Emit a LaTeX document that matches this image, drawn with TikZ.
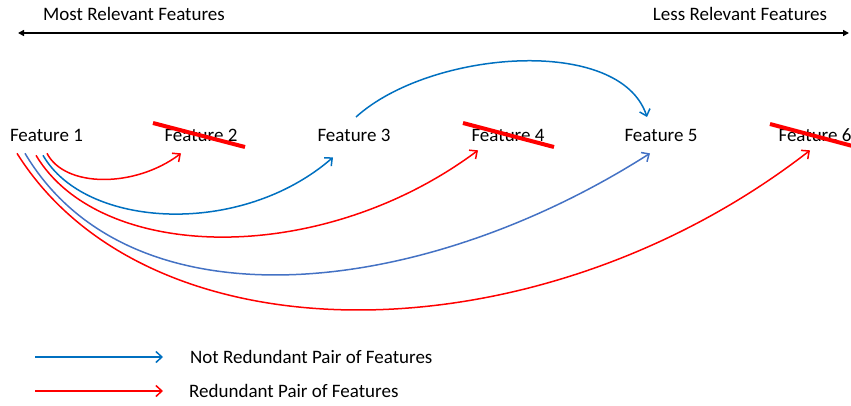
\documentclass[tikz,border=0pt]{standalone}
\usepackage{fontspec}
\setmainfont{Carlito}
\usetikzlibrary{arrows.meta,calc}
\definecolor{nrblue}{HTML}{0070C0}
\definecolor{nrblue2}{HTML}{4472C4}
\definecolor{rdred}{HTML}{FF0000}
\tikzset{
  feat/.style={inner sep=0pt,anchor=base,font=\fontsize{19}{22}\selectfont},
  lbl/.style={inner sep=0pt,font=\fontsize{19}{22}\selectfont},
  pairarrow/.style={line width=1.5pt,-{Straight Barb[length=6pt,width=11pt,line width=1.5pt]}},
  notred/.style={pairarrow,draw=nrblue},
  notredb/.style={pairarrow,draw=nrblue2},
  red/.style={pairarrow,draw=rdred},
  strike/.style={line width=4pt,draw=rdred},
  axis/.style={line width=2.2pt,{Triangle[length=6pt,width=6pt]}-{Triangle[length=6pt,width=6pt]}}
}
\begin{document}
\begin{tikzpicture}[x=1pt,y=-1pt]
\useasboundingbox (0,0) rectangle (851,405);

% relevance axis
\node[lbl,anchor=base] (most) at (134,20) {Most Relevant Features};
\node[lbl,anchor=base] (less) at (740,20) {Less Relevant Features};
\coordinate (axL) at (18,33);
\coordinate (axR) at (849,33);
\draw[axis] (axL) -- (axR);

% features
\node[feat] (f1) at (46.5,141) {Feature 1};
\node[feat] (f2) at (201,141) {Feature 2};
\node[feat] (f3) at (354,141) {Feature 3};
\node[feat] (f4) at (508,141) {Feature 4};
\node[feat] (f5) at (661,141) {Feature 5};
\node[feat] (f6) at (815,141) {Feature 6};

% removed features
\draw[strike] ($(f2.base)+(-48,-18)$) -- ($(f2.base)+(44,6)$);
\draw[strike] ($(f4.base)+(-45,-18)$) -- ($(f4.base)+(46,6)$);
\draw[strike] ($(f6.base)+(-45,-17)$) -- ($(f6.base)+(45,7)$);

% pair relations
\draw[red] ($(f1.south)+(0.5,12)$) .. controls (65,188) and (135,188) .. ($(f2.south)+(-20,12)$);
\draw[notred] ($(f1.south)+(-3.5,14)$) .. controls (85,228) and (240,238) .. ($(f3.south)+(-21,16)$);
\draw[red] ($(f1.south)+(-10.5,14)$) .. controls (100,262) and (320,268) .. ($(f4.south)+(-30,9)$);
\draw[notredb] ($(f1.south)+(-21.5,12)$) .. controls (130,330) and (420,300) .. ($(f5.south)+(-11,12)$);
\draw[red] ($(f1.south)+(-29.5,12)$) .. controls (150,365) and (540,360) .. ($(f6.south)+(-5,9)$);
\draw[notred] ($(f3.base)+(2,-24)$) .. controls (430,50) and (620,35) .. ($(f5.base)+(-14,-24)$);

% legend
\coordinate (lb1) at (35,357);
\coordinate (lb2) at (163,357);
\coordinate (lr1) at (35,391);
\coordinate (lr2) at (163,391);
\draw[notred] (lb1) -- (lb2);
\draw[red] (lr1) -- (lr2);
\node[lbl,anchor=base west] (lbt) at (190,363) {Not Redundant Pair of Features};
\node[lbl,anchor=base west] (lrt) at (189,397) {Redundant Pair of Features};
\end{tikzpicture}
\end{document}
